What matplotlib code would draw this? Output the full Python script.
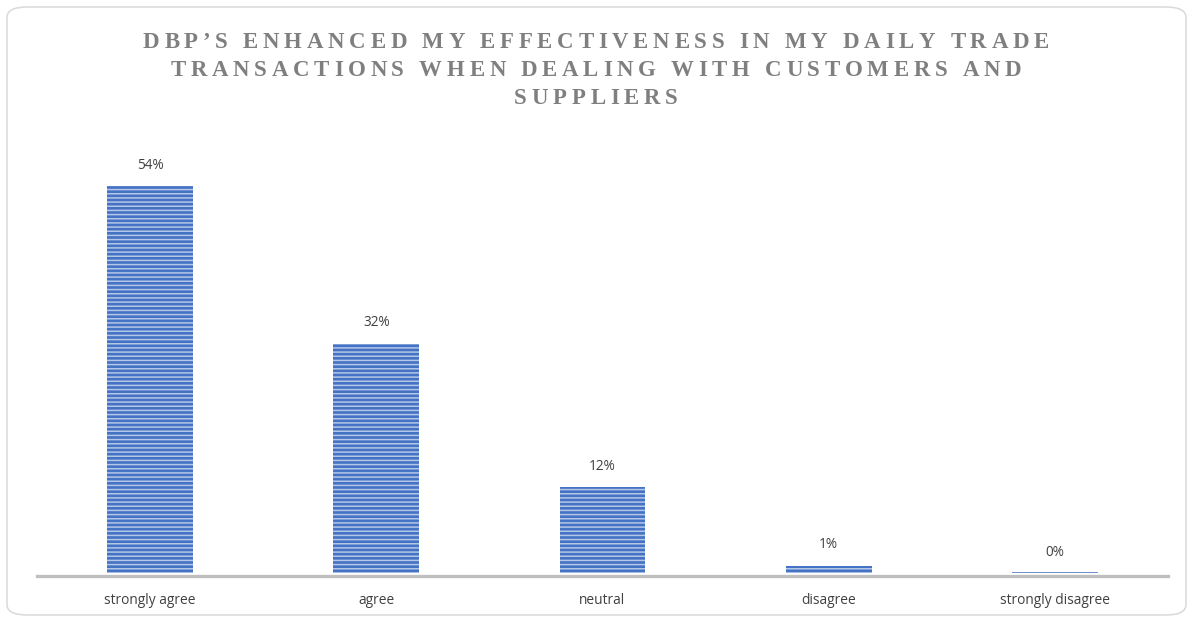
import matplotlib
matplotlib.use("Agg")
import matplotlib.pyplot as plt
from matplotlib import font_manager
from matplotlib.ft2font import FT2Font
from matplotlib.patches import FancyBboxPatch

categories = ["strongly agree", "agree", "neutral", "disagree", "strongly disagree"]
values = [54, 32, 12, 1, 0]
labels = ["54%", "32%", "12%", "1%", "0%"]
title_lines = ["DBP’S ENHANCED MY EFFECTIVENESS IN MY DAILY TRADE",
               "TRANSACTIONS WHEN DEALING WITH CUSTOMERS AND",
               "SUPPLIERS"]

W, H, DPI = 1189, 619, 100
plt.rcParams['hatch.linewidth'] = 1.1
plt.rcParams['hatch.color'] = '#b4c7e7'

fig = plt.figure(figsize=(W / DPI, H / DPI), dpi=DPI)
ax = fig.add_axes([37 / W, (H - 573) / H, (1168 - 37) / W, (573 - 143) / H])

# rounded chart frame
frame = FancyBboxPatch((7 / W, 4 / H), (1186 - 7) / W, (612 - 4) / H,
                       boxstyle="round,pad=0,rounding_size=0.017",
                       transform=fig.transFigure, facecolor='none',
                       edgecolor='#d9d9d9', linewidth=1.1, zorder=0)
fig.patches.append(frame)

for s in ['top', 'right', 'left']:
    ax.spines[s].set_visible(False)
ax.spines['bottom'].set_position(('outward', 1.8))
ax.spines['bottom'].set_color('#bfbfbf')
ax.spines['bottom'].set_linewidth(2.4)

x = range(len(categories))
bars = ax.bar(x, values, width=0.38, color='#4472c4', hatch='----',
              edgecolor='#b4c7e7', linewidth=0, zorder=3)
# zero-height bar still shows as a thin line
for b, v in zip(bars, values):
    if v == 0:
        b.set_edgecolor('#4472c4')
        b.set_linewidth(1.1)
        b.set_hatch(None)

for xi, v, lab in zip(x, values, labels):
    ax.annotate(lab, (xi, v), xytext=(0, 15), textcoords='offset points',
                ha='center', va='center', fontsize=9.8, color='#404040',
                family='Open Sans')

ax.set_xlim(-0.5, 4.5)
ax.set_ylim(0, 60)
ax.set_yticks([])
ax.set_xticks(list(x))
ax.set_xticklabels(categories, fontsize=9.9, color='#404040', family='Open Sans')
ax.tick_params(axis='x', length=0, pad=12.5)

# letter-spaced serif title, drawn glyph by glyph
TSIZE = 16.5
prop = font_manager.FontProperties(family='Liberation Serif', weight='bold', size=TSIZE)
ft = FT2Font(font_manager.findfont(prop))
ft.set_size(TSIZE, DPI)

def advances(s):
    out = []
    for ch in s:
        g = ft.load_char(ord(ch))
        out.append(g.linearHoriAdvance / 65536)
    return out

adv0 = advances(title_lines[0])
spacing = (906 - sum(adv0)) / (len(title_lines[0]) - 1)
line_y = [42, 70, 98]
for line, yy in zip(title_lines, line_y):
    adv = advances(line)
    total = sum(adv) + spacing * (len(line) - 1)
    px = 596 - total / 2
    for ch, a in zip(line, adv):
        if ch != ' ':
            fig.text(px / W, 1 - yy / H, ch, fontproperties=prop,
                     color='#7f7f7f', ha='left', va='center')
        px += a + spacing

fig.savefig("out.png", dpi=DPI)
